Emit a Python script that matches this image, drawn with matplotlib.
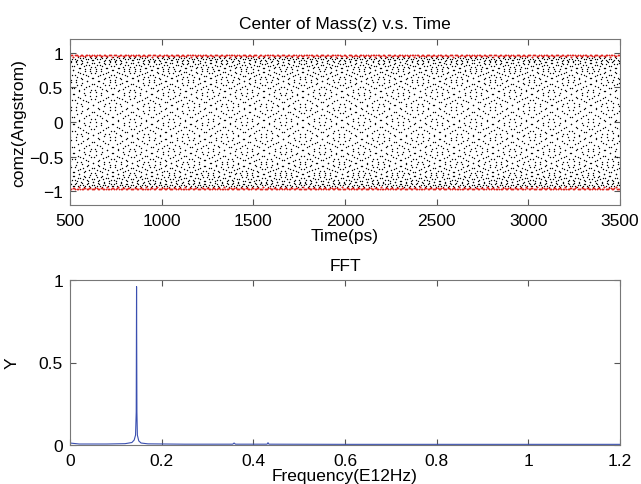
import numpy as np
import matplotlib.pyplot as plt

plt.rcParams['font.family'] = ['Liberation Sans', 'DejaVu Sans']
plt.rcParams['font.size'] = 12.5

# top panel: the oscillation is too dense to list point by point, so it is
# described by the values (amplitude, period, step)
t_start = 500
t_end = 3500
t_step = 0.5          # ps
amp = 0.97            # Angstrom
freq = 0.1452         # E12 Hz, from the FFT peak
peak_level = 0.945    # points above this are drawn red

# bottom panel: FFT curve
fft_freq = [0.0, 0.02, 0.08, 0.12, 0.135, 0.14, 0.143, 0.1445, 0.1452, 0.146,
            0.147, 0.15, 0.155, 0.17, 0.25, 0.355, 0.358, 0.361, 0.43,
            0.432, 0.434, 0.6, 0.9, 1.2]
fft_amp = [0.012, 0.006, 0.006, 0.008, 0.015, 0.03, 0.06, 0.2, 0.96, 0.2,
           0.06, 0.025, 0.012, 0.007, 0.005, 0.005, 0.012, 0.005, 0.005,
           0.014, 0.005, 0.004, 0.004, 0.004]

t = np.arange(t_start, t_end + t_step, t_step)
z = amp * np.sin(2 * np.pi * freq * t)
hi = np.abs(z) > peak_level

fig = plt.figure(figsize=(6.41, 4.85), dpi=100)
ax1 = fig.add_axes([70 / 641, 1 - 206 / 485, 550 / 641, 166 / 485])
ax2 = fig.add_axes([70 / 641, 1 - 446 / 485, 550 / 641, 165 / 485])

ax1.plot(t[~hi], z[~hi], '.', color='black', markersize=2.0, markeredgewidth=0)
ax1.plot(t[hi], z[hi], '.', color='#e0201c', markersize=2.6, markeredgewidth=0)
ax1.set_xlim(t_start, t_end)
ax1.set_ylim(-1.2, 1.2)
ax1.set_xticks(range(500, 3501, 500))
ax1.set_yticks([-1, -0.5, 0, 0.5, 1])
ax1.set_yticklabels(['\u22121', '\u22120.5', '0', '0.5', '1'])
ax1.set_title('Center of Mass(z) v.s. Time', fontsize=12.5, pad=8)
ax1.set_xlabel('Time(ps)', labelpad=0)
ax1.set_ylabel('comz(Angstrom)', labelpad=2)

ax2.plot(fft_freq, fft_amp, color='#3a4fb0', linewidth=0.8)
ax2.set_xlim(0, 1.2)
ax2.set_ylim(0, 1)
ax2.set_xticks([0, 0.2, 0.4, 0.6, 0.8, 1, 1.2])
ax2.set_xticklabels(['0', '0.2', '0.4', '0.6', '0.8', '1', '1.2'])
ax2.set_yticks([0, 0.5, 1])
ax2.set_yticklabels(['0', '0.5', '1'])
ax2.set_title('FFT', fontsize=12.5, pad=7)
ax2.set_xlabel('Frequency(E12Hz)', labelpad=0)
ax2.set_ylabel('Y', labelpad=14)

for ax in (ax1, ax2):
    ax.tick_params(direction='in', top=True, right=True, length=4,
                   color='#555555', labelsize=12.5)
    ax.tick_params(axis='x', pad=6)
    ax.tick_params(axis='y', pad=5)
    for s in ax.spines.values():
        s.set_color('#777777')
        s.set_linewidth(0.8)

fig.savefig('out.png', dpi=100)
